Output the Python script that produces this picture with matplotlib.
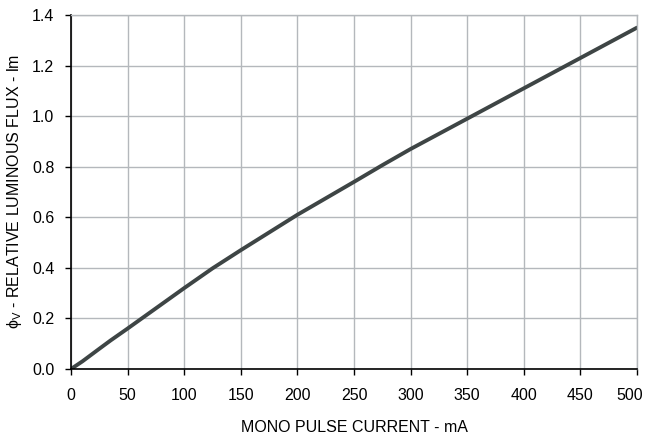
import matplotlib
matplotlib.use("Agg")
import matplotlib.pyplot as plt
import matplotlib.transforms as mtransforms

# Relative luminous flux vs mono pulse current
current_ma = [0, 10, 25, 35, 50, 60, 75, 100, 125, 150, 175, 200, 225, 250, 275,
              300, 325, 350, 375, 400, 425, 450, 475, 500]
flux_lm = [0.0, 0.03, 0.08, 0.113, 0.16, 0.192, 0.24, 0.32, 0.398, 0.47, 0.54,
           0.61, 0.675, 0.74, 0.806, 0.87, 0.93, 0.99, 1.05, 1.11, 1.17, 1.23,
           1.29, 1.35]

x_ticks = [0, 50, 100, 150, 200, 250, 300, 350, 400, 450, 500]
y_ticks = [0.0, 0.2, 0.4, 0.6, 0.8, 1.0, 1.2, 1.4]

plt.rcParams["font.family"] = ["Liberation Sans", "DejaVu Sans"]
plt.rcParams["mathtext.fontset"] = "custom"
plt.rcParams["mathtext.rm"] = "Liberation Sans"

fig = plt.figure(figsize=(6.46, 4.42), dpi=100)
ax = fig.add_axes([71 / 646, 1 - 369 / 442, 566 / 646, 354 / 442])

grid_color = "#b4b8bc"
ax.plot(current_ma, flux_lm, color="#3e4545", linewidth=2.8, solid_capstyle="round")

ax.set_xlim(0, 500)
ax.set_ylim(0, 1.4)
ax.set_xticks(x_ticks)
ax.set_yticks(y_ticks)
ax.set_yticklabels([f"{v:.1f}" for v in y_ticks])
ax.grid(True, color=grid_color, linewidth=1.0)
ax.set_axisbelow(True)

for side in ["top", "right"]:
    ax.spines[side].set_color(grid_color)
    ax.spines[side].set_linewidth(1.0)
for side in ["left", "bottom"]:
    ax.spines[side].set_color("black")
    ax.spines[side].set_linewidth(1.2)

ax.tick_params(direction="out", length=4, width=1, labelsize=11.5, colors="black", pad=8)
ax.tick_params(axis="x", pad=10)

# nudge the last x label so it stays inside the figure
last = ax.get_xticklabels()[-1]
last.set_transform(last.get_transform() + mtransforms.ScaledTranslation(-5 / 72, 0, fig.dpi_scale_trans))

ax.set_xlabel("MONO PULSE CURRENT - mA", fontsize=11.5, labelpad=12)
ax.set_ylabel(r"ϕ$_\mathregular{V}$ - RELATIVE LUMINOUS FLUX - lm", fontsize=11.5, labelpad=6)

fig.savefig("out.png", dpi=100)
